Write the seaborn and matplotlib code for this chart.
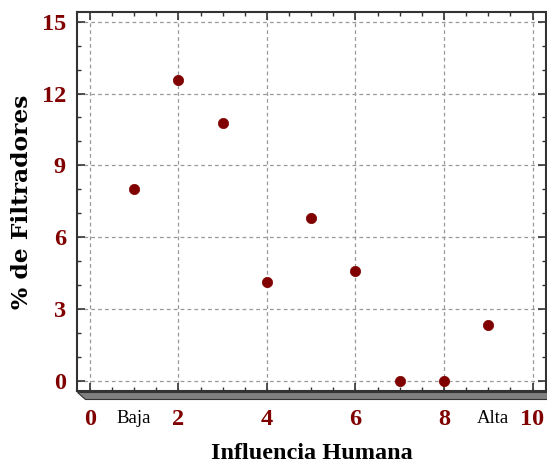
import matplotlib
matplotlib.use("Agg")
import matplotlib.pyplot as plt
import seaborn as sns
import pandas as pd
from matplotlib.ticker import MultipleLocator
from matplotlib.patches import Polygon

influencia = [1, 2, 3, 4, 5, 6, 7, 8, 9]
filtradores = [8.0, 12.55, 10.75, 4.15, 6.8, 4.6, 0.0, 0.0, 2.35]
x_ticks = [0, 2, 4, 6, 8, 10]
y_ticks = [0, 3, 6, 9, 12, 15]
x_extra_labels = ["Baja", "Alta"]
x_extra_pos = [1, 9.1]

sns.set_theme(style="white")
plt.rcParams['font.family'] = ['Liberation Serif', 'DejaVu Serif']

df = pd.DataFrame({"x": influencia, "y": filtradores})
fig = plt.figure(figsize=(5.47, 4.65), dpi=100)
ax = fig.add_axes([0.1408, 0.159, 0.857, 0.815])

sns.scatterplot(data=df, x="x", y="y", ax=ax, color="#800000", s=55,
                edgecolor="#800000", linewidth=0.5, zorder=3)

ax.set_xlim(-0.29, 10.3)
ax.set_ylim(-0.42, 15.4)
ax.set_xticks(x_ticks)
ax.set_yticks(y_ticks)
ax.xaxis.set_minor_locator(MultipleLocator(0.5))
ax.yaxis.set_minor_locator(MultipleLocator(1))
ax.grid(True, which="major", color="#999999", linestyle=(0, (3, 2.5)), linewidth=0.9)
ax.tick_params(which="both", direction="in", top=True, right=True, bottom=True, left=True,
               color="#333333")
ax.tick_params(which="major", length=6, width=1.2)
ax.tick_params(which="minor", length=3, width=1.0)
ax.tick_params(axis="x", which="major", pad=13)
ax.tick_params(axis="y", which="major", pad=8)
for lab in ax.get_xticklabels() + ax.get_yticklabels():
    lab.set_color("#800000")
    lab.set_fontweight("bold")
    lab.set_fontsize(17.5)
for sp in ax.spines.values():
    sp.set_color("#333333")
    sp.set_linewidth(1.5)

ax.set_xlabel("Influencia Humana", fontsize=17.5, fontweight="bold", color="black")
ax.set_ylabel("% de Filtradores", fontsize=16.8, fontweight="bold", color="black",
              family=["DejaVu Serif"])
ax.xaxis.set_label_coords(0.5, -0.18)
ax.xaxis.label.set_verticalalignment("baseline")
ax.yaxis.set_label_coords(-0.117, 0.5)
ax.yaxis.label.set_verticalalignment("center")

for lbl, xp in zip(x_extra_labels, x_extra_pos):
    ax.annotate(lbl, xy=(xp, 0), xycoords=("data", "axes fraction"),
                xytext=(0, -20), textcoords="offset points",
                ha="center", va="center", fontsize=13.5, color="black")

# shadow band under the bottom spine
x0, x1 = 77 / 547, 547 / 547
yt, yb = 1 - 392 / 465, 1 - 399 / 465
shadow = Polygon([(x0, yt), (x1, yt), (x1, yb), (85 / 547, yb)], closed=True,
                 transform=fig.transFigure, facecolor="#808080", edgecolor="#333333",
                 linewidth=0.8, zorder=0)
fig.patches.append(shadow)

fig.savefig("out.png", dpi=100)
